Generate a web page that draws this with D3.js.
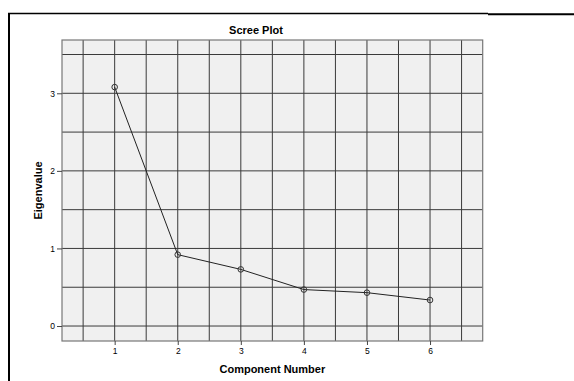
<!DOCTYPE html>
<html>
<head>
<meta charset="utf-8">
<script src="https://cdn.jsdelivr.net/npm/d3@7"></script>
<style>
  body { margin: 0; background: #fff; }
  svg { display: block; font-family: "Liberation Sans", Arial, sans-serif; }
</style>
</head>
<body>
<svg width="574" height="381"></svg>
<script>
// Scree plot data
const components = [1, 2, 3, 4, 5, 6];
const eigenvalues = [3.08, 0.92, 0.73, 0.47, 0.43, 0.335];
const xTicks = [1, 2, 3, 4, 5, 6];
const yTicks = [0, 1, 2, 3];
const xGrid = [0.5, 1, 1.5, 2, 2.5, 3, 3.5, 4, 4.5, 5, 5.5, 6, 6.5];
const yGrid = [0, 0.5, 1, 1.5, 2, 2.5, 3, 3.5];

const svg = d3.select("svg");

// plot box (top/left clash with window globals, so prefix them)
const plotL = 62, plotR = 482.7, plotT = 40, plotB = 341;

const x = d3.scaleLinear().domain([0.165, 6.835]).range([plotL, plotR]);
const y = d3.scaleLinear().domain([-0.193, 3.687]).range([plotB, plotT]);

// outer frame lines (left and top)
svg.append("line")
  .attr("x1", 9).attr("x2", 9).attr("y1", 13).attr("y2", 381)
  .attr("stroke", "#000").attr("stroke-width", 2);
svg.append("line")
  .attr("x1", 8).attr("x2", 488).attr("y1", 13.5).attr("y2", 13.5)
  .attr("stroke", "#000").attr("stroke-width", 1.5);
svg.append("line")
  .attr("x1", 488).attr("x2", 574).attr("y1", 14.3).attr("y2", 14.3)
  .attr("stroke", "#000").attr("stroke-width", 2);

// plot background
svg.append("rect")
  .attr("x", plotL).attr("y", plotT)
  .attr("width", plotR - plotL).attr("height", plotB - plotT)
  .attr("fill", "#f0f0f0");

// grid lines
svg.append("g").selectAll("line")
  .data(xGrid)
  .join("line")
  .attr("x1", d => x(d)).attr("x2", d => x(d))
  .attr("y1", plotT).attr("y2", plotB)
  .attr("stroke", "#3a3a3a").attr("stroke-width", 1);

svg.append("g").selectAll("line")
  .data(yGrid)
  .join("line")
  .attr("x1", plotL).attr("x2", plotR)
  .attr("y1", d => y(d)).attr("y2", d => y(d))
  .attr("stroke", "#3a3a3a").attr("stroke-width", 1);

// plot border
svg.append("rect")
  .attr("x", plotL).attr("y", plotT)
  .attr("width", plotR - plotL).attr("height", plotB - plotT)
  .attr("fill", "none").attr("stroke", "#777").attr("stroke-width", 1.2);

// axes
const yAxis = svg.append("g")
  .attr("transform", `translate(${plotL},0)`)
  .call(d3.axisLeft(y).tickValues(yTicks).tickSize(5).tickPadding(2).tickFormat(d3.format("d")));
yAxis.select(".domain").remove();
yAxis.selectAll("line").attr("stroke", "#444");
yAxis.selectAll("text").attr("font-size", 8.5).attr("fill", "#000")
  .attr("font-family", "Liberation Sans, Arial, sans-serif");

const xAxis = svg.append("g")
  .attr("transform", `translate(0,${plotB})`)
  .call(d3.axisBottom(x).tickValues(xTicks).tickSize(4).tickPadding(3).tickFormat(d3.format("d")));
xAxis.select(".domain").remove();
xAxis.selectAll("line").attr("stroke", "#444");
xAxis.selectAll("text").attr("font-size", 8.5).attr("fill", "#000")
  .attr("font-family", "Liberation Sans, Arial, sans-serif");

// line + markers
const line = d3.line()
  .x((d, i) => x(components[i]))
  .y(d => y(d));

svg.append("path")
  .datum(eigenvalues)
  .attr("d", line)
  .attr("fill", "none")
  .attr("stroke", "#222")
  .attr("stroke-width", 1);

svg.append("g").selectAll("circle")
  .data(eigenvalues)
  .join("circle")
  .attr("cx", (d, i) => x(components[i]))
  .attr("cy", d => y(d))
  .attr("r", 2.8)
  .attr("fill", "none")
  .attr("stroke", "#333")
  .attr("stroke-width", 1);

// titles
svg.append("text")
  .attr("x", 256).attr("y", 34)
  .attr("text-anchor", "middle")
  .attr("font-size", 11).attr("font-weight", "bold")
  .text("Scree Plot");

svg.append("text")
  .attr("x", (plotL + plotR) / 2).attr("y", 373)
  .attr("text-anchor", "middle")
  .attr("font-size", 11).attr("font-weight", "bold")
  .text("Component Number");

svg.append("text")
  .attr("transform", `translate(42,${(plotT + plotB) / 2}) rotate(-90)`)
  .attr("text-anchor", "middle")
  .attr("font-size", 11).attr("font-weight", "bold")
  .text("Eigenvalue");
</script>
</body>
</html>
